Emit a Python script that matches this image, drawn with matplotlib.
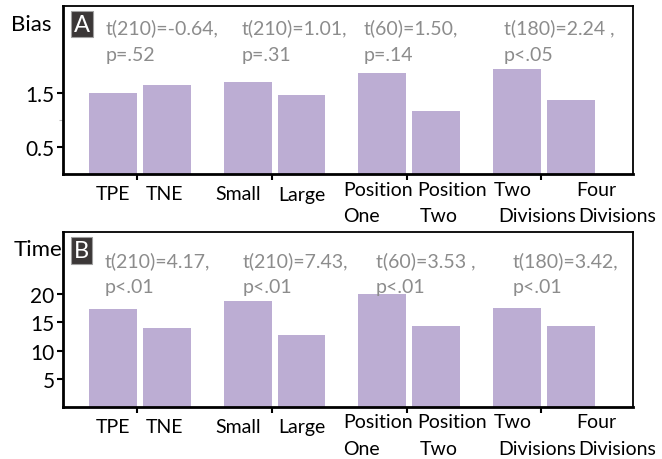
import numpy as np
import matplotlib.pyplot as plt

plt.rcParams['font.family'] = ['Lato', 'DejaVu Sans']

# data
labels = ['TPE', 'TNE', 'Small', 'Large', 'Position\nOne', 'Position\nTwo',
          'Two\nDivisions', 'Four\nDivisions']
bias = [1.50, 1.65, 1.69, 1.46, 1.87, 1.17, 1.93, 1.37]
time = [17.4, 14.0, 18.7, 12.8, 20.0, 14.3, 17.5, 14.3]
stats_bias = ['t(210)=-0.64,\np=.52', 't(210)=1.01,\np=.31',
              't(60)=1.50,\np=.14', 't(180)=2.24 ,\np<.05']
stats_time = ['t(210)=4.17,\np<.01', 't(210)=7.43,\np<.01',
              't(60)=3.53 ,\np<.01', 't(180)=3.42,\np<.01']

bar_col = '#bcadd3'
gray = '#8c8c8c'

fig = plt.figure(figsize=(6.62, 4.6), dpi=100)
W, H = 662, 460

def px_axes(x0, y0, x1, y1):
    return fig.add_axes([x0 / W, 1 - y1 / H, (x1 - x0) / W, (y1 - y0) / H])

def ptext(x, y, s, **kw):
    return fig.text(x / W, 1 - y / H, s, **kw)

axA = px_axes(63, 7, 633, 175)
axB = px_axes(63, 233, 633, 408)

groups = np.arange(1, 5)
xpos = np.array([[g - 0.2, g + 0.2] for g in groups]).ravel()

# label layout (pixel x of each line) per bar
lab_x = [(113,), (165,), (238,), (302,), (343, 343), (417, 420), (494, 498),
         (576, 578)]

def panel(ax, vals, ylim, yticks, letter, stats, ylab, stat_x, y0):
    ax.bar(xpos, vals, width=0.356, color=bar_col, zorder=2)
    ax.set_xlim(0.43, 4.66)
    ax.set_ylim(*ylim)
    ax.set_yticks(yticks)
    ax.set_yticklabels([str(t) for t in yticks], fontsize=15)
    ax.set_xticks(groups - 0.02)
    ax.set_xticklabels([])
    ax.tick_params(axis='both', length=4, width=1.5, color='black', pad=2)
    for s in ['left', 'bottom']:
        ax.spines[s].set_linewidth(2)
    for s in ['top', 'right']:
        ax.spines[s].set_linewidth(1.3)
    # bar labels
    for xs, lab in zip(lab_x, labels):
        parts = lab.split('\n')
        if len(parts) == 1:
            ptext(xs[0], y0 + 20, lab, ha='center', va='center', fontsize=14)
        else:
            ptext(xs[0], y0 + 15, parts[0], ha='left', va='center', fontsize=14)
            ptext(xs[1], y0 + 42, parts[1], ha='left', va='center', fontsize=14)
    # stats
    for sx, st in zip(stat_x, stats):
        l1, l2 = st.split('\n')
        ptext(sx, y0 - 147, l1, ha='left', va='center', fontsize=14, color=gray)
        ptext(sx, y0 - 120, l2, ha='left', va='center', fontsize=14, color=gray)
    ax.text(0.0195, 0.955, letter, transform=ax.transAxes, ha='left', va='top',
            color='white', fontsize=17,
            bbox=dict(boxstyle='square,pad=0.12', fc='#3b3737', ec='#a0a0a0', lw=0.8))
    ptext(ylab[1], ylab[2], ylab[0], ha='left', va='center', fontsize=16)

panel(axA, bias, (0, 3.1), [0.5, 1.5], 'A', stats_bias, ('Bias', 11, 25),
      [106, 242, 364, 504], 175)
axA.set_yticks([1.0], minor=True)
axA.tick_params(axis='y', which='minor', length=3, width=0.8, color='#bbbbbb')

panel(axB, time, (0, 31), [5, 10, 15, 20], 'B', stats_time, ('Time', 14, 250),
      [105, 243, 376, 513], 408)

fig.savefig('out.png', dpi=100)
